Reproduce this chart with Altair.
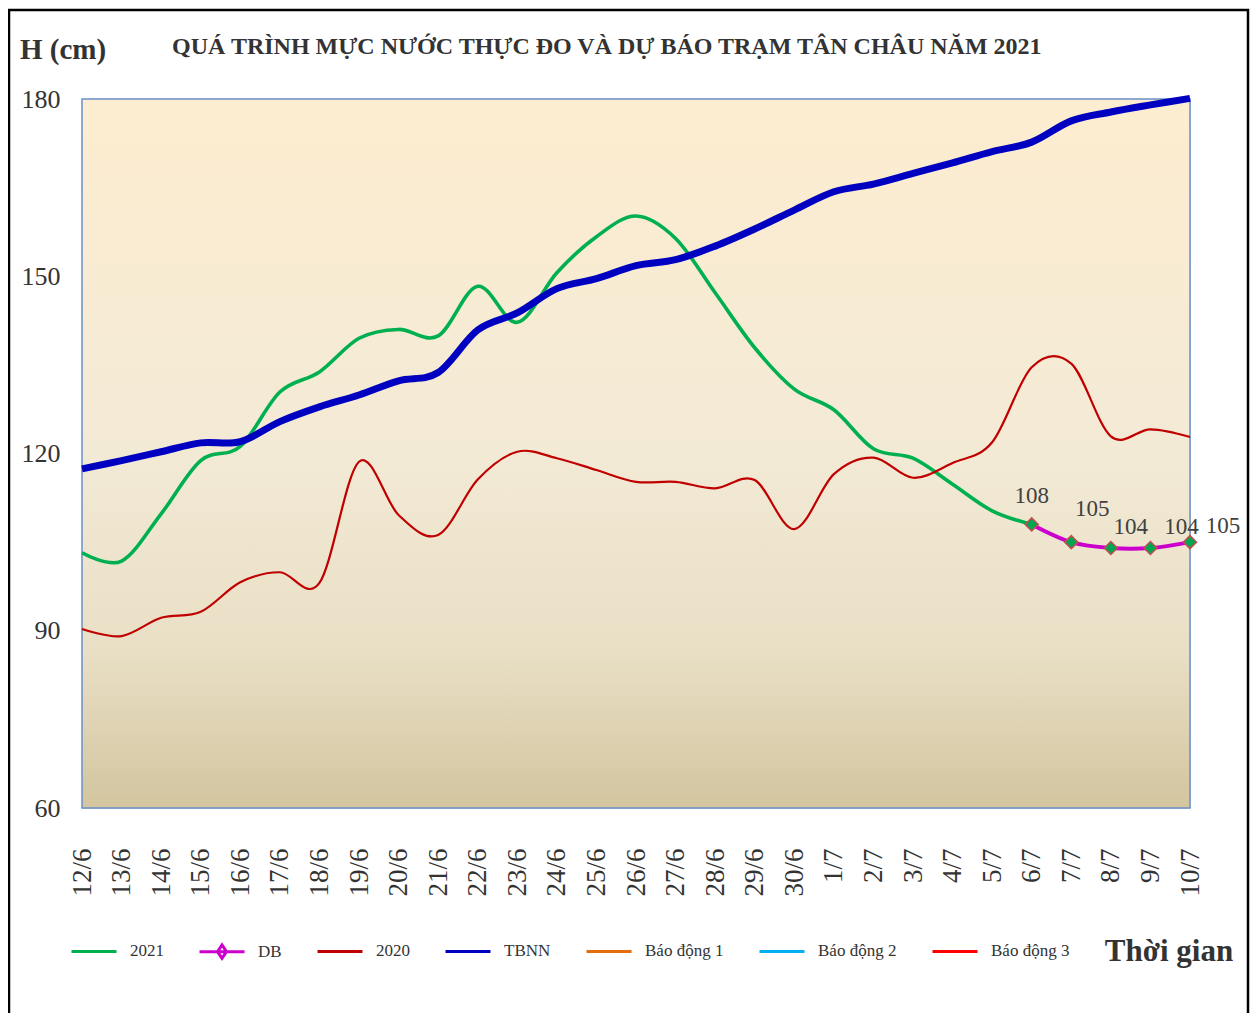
import altair as alt
import pandas as pd

# ---------------- data ----------------
dates = ["12/6", "13/6", "14/6", "15/6", "16/6", "17/6", "18/6", "19/6", "20/6",
         "21/6", "22/6", "23/6", "24/6", "25/6", "26/6", "27/6", "28/6", "29/6",
         "30/6", "1/7", "2/7", "3/7", "4/7", "5/7", "6/7", "7/7", "8/7", "9/7", "10/7"]

# measured 2021 (12/6 .. 6/7)
h2021 = [103.2, 101.8, 109.8, 118.8, 121.2, 130.4, 133.8, 139.5, 141.0, 139.9,
         148.3, 142.2, 150.6, 156.7, 160.2, 156.4, 147.2, 137.9, 130.9, 127.4,
         120.8, 119.2, 114.8, 110.3, 108.0]

# forecast DB (6/7 .. 10/7)
db_dates = ["6/7", "7/7", "8/7", "9/7", "10/7"]
h_db = [108, 105, 104, 104, 105]

# 2020
h2020 = [90.3, 89.1, 92.2, 93.2, 98.2, 99.9, 98.1, 118.6, 109.6, 106.2,
         115.6, 120.3, 119.2, 117.2, 115.2, 115.2, 114.1, 115.5, 107.2, 116.5,
         119.3, 115.9, 118.4, 121.9, 134.6, 135.2, 122.9, 124.1, 122.8]

# TBNN
h_tbnn = [117.4, 118.8, 120.3, 121.8, 122.0, 125.4, 127.9, 129.9, 132.3, 133.7,
          140.9, 143.8, 147.9, 149.6, 151.8, 152.8, 155.1, 158.0, 161.2, 164.3,
          165.6, 167.4, 169.2, 171.1, 172.7, 176.3, 177.8, 179.0, 180.1]

series_names = ["2021", "DB", "2020", "TBNN", "Báo động 1", "Báo động 2", "Báo động 3"]
series_colors = ["#00B050", "#CC00CC", "#C00000", "#0000C0", "#E46C0A", "#00B0F0", "#FF0000"]
y_ticks = [60, 90, 120, 150, 180]

title_text = "QUÁ TRÌNH MỰC NƯỚC THỰC ĐO VÀ DỰ BÁO TRẠM TÂN CHÂU NĂM 2021"
y_title = "H (cm)"
x_title = "Thời gian"

# ---------------- tables ----------------
rows = []
for d, v in zip(dates, h2021):
    rows.append({"series": "2021", "date": d, "value": v})
for d, v in zip(db_dates, h_db):
    rows.append({"series": "DB", "date": d, "value": v})
for d, v in zip(dates, h2020):
    rows.append({"series": "2020", "date": d, "value": v})
for d, v in zip(dates, h_tbnn):
    rows.append({"series": "TBNN", "date": d, "value": v})
df = pd.DataFrame(rows)
one = pd.DataFrame({"k": [0]})

W, H = 1108, 709
FONT = "Liberation Serif"
TXT = "#333333"

line_path = "M-1,0H1M0,-0.32L0,-0.32M0,0.32L0,0.32"
db_path = "M-1,0H1M0,-0.3L0.2,0L0,0.3L-0.2,0Z"
shape_range = [db_path if s == "DB" else line_path for s in series_names]

xenc = alt.X("date:O", sort=dates,
             scale=alt.Scale(type="point", padding=0, domain=dates),
             axis=alt.Axis(title=None, labelAngle=-90, labelFont=FONT, labelFontSize=27,
                           labelColor=TXT, ticks=False, domain=False, labelPadding=40,
                           grid=False))
yenc = alt.Y("value:Q", scale=alt.Scale(domain=[60, 180], nice=False, zero=False),
             axis=alt.Axis(title=None, values=y_ticks, labelFont=FONT, labelFontSize=26,
                           labelColor=TXT, ticks=False, domain=False, labelPadding=22,
                           grid=False))
color_scale = alt.Scale(domain=series_names, range=series_colors)

leg_props = dict(orient="none", legendX=-12, legendY=828, direction="horizontal", title=None,
                 symbolSize=2025, symbolStrokeWidth=3, symbolOpacity=1,
                 symbolFillColor="#00A651", labelFont=FONT, labelFontSize=17,
                 labelColor=TXT, labelOffset=12, columnPadding=29)

bg = alt.Chart(one).mark_rect(
    fill=alt.Gradient(gradient="linear",
                      stops=[alt.GradientStop(color="#FDEDD0", offset=0),
                             alt.GradientStop(color="#F3EAD6", offset=0.5),
                             alt.GradientStop(color="#E9DFC5", offset=0.78),
                             alt.GradientStop(color="#D2C59F", offset=1)],
                      x1=0, x2=0, y1=0, y2=1),
    stroke="#6A8FC9", strokeWidth=1.5
).encode(x=alt.value(0), x2=alt.value("width"), y=alt.value(0), y2=alt.value("height"))


def line_layer(name, width):
    return alt.Chart(df).transform_filter(alt.datum.series == name).mark_line(
        interpolate="cardinal", strokeWidth=width
    ).encode(x=xenc, y=yenc,
             color=alt.Color("series:N", scale=color_scale, legend=alt.Legend(**leg_props)))


l2021 = line_layer("2021", 3.6)
ldb = line_layer("DB", 4)
l2020 = line_layer("2020", 2.2)
ltbnn = line_layer("TBNN", 7)

db_points = alt.Chart(df).transform_filter(alt.datum.series == "DB").mark_point(
    shape="diamond", filled=True, fill="#00A651", stroke="#C0504D", strokeWidth=1.5,
    size=170, opacity=1
).encode(x=xenc, y=yenc)

legend_layer = alt.Chart(df).transform_filter("false").mark_point(filled=False).encode(
    x=xenc, y=yenc,
    color=alt.Color("series:N", scale=color_scale, legend=alt.Legend(**leg_props)),
    shape=alt.Shape("series:N", scale=alt.Scale(domain=series_names, range=shape_range),
                    legend=alt.Legend(**leg_props)),
)

LABEL_DX = [0, 21, 20, 31, 33]
LABEL_DY = [-28, -33, -21, -21, -16]
label_layers = []
for i, d in enumerate(db_dates):
    label_layers.append(
        alt.Chart(df).transform_filter(
            (alt.datum.series == "DB") & (alt.datum.date == d)
        ).mark_text(font=FONT, fontSize=23, color="#404040", dx=LABEL_DX[i], dy=LABEL_DY[i],
                    baseline="middle", align="center").encode(
            x=xenc, y=yenc, text=alt.Text("value:Q", format="d"))
    )

main_title = alt.Chart(one).mark_text(
    text=title_text, font=FONT, fontSize=24, fontWeight="bold", color=TXT,
    align="left", baseline="middle"
).encode(x=alt.value(90), y=alt.value(-52))

ytitle = alt.Chart(one).mark_text(
    text=y_title, font=FONT, fontSize=29, fontWeight="bold", color=TXT,
    align="left", baseline="middle"
).encode(x=alt.value(-62), y=alt.value(-49))

xtitle = alt.Chart(one).mark_text(
    text=x_title, font=FONT, fontSize=31, fontWeight="bold", color=TXT,
    align="center", baseline="middle"
).encode(x=alt.value(1087), y=alt.value(853))

frame = alt.Chart(one).mark_rect(
    fill="transparent", stroke="black", strokeWidth=2.5, clip=False
).encode(x=alt.value(-73), x2=alt.value(1166), y=alt.value(-89), y2=alt.value(940))

chart = alt.layer(
    bg, l2021, ldb, l2020, ltbnn, db_points, legend_layer, *label_layers,
    main_title, ytitle, xtitle, frame
).properties(
    width=W, height=H,
    autosize=alt.AutoSizeParams(type="none"),
    padding={"left": 74, "top": 91, "right": 60, "bottom": 205},
).configure_view(
    stroke=None
).configure(background="white")

chart.save("out.html", embed_options={"renderer": "svg", "actions": False})
